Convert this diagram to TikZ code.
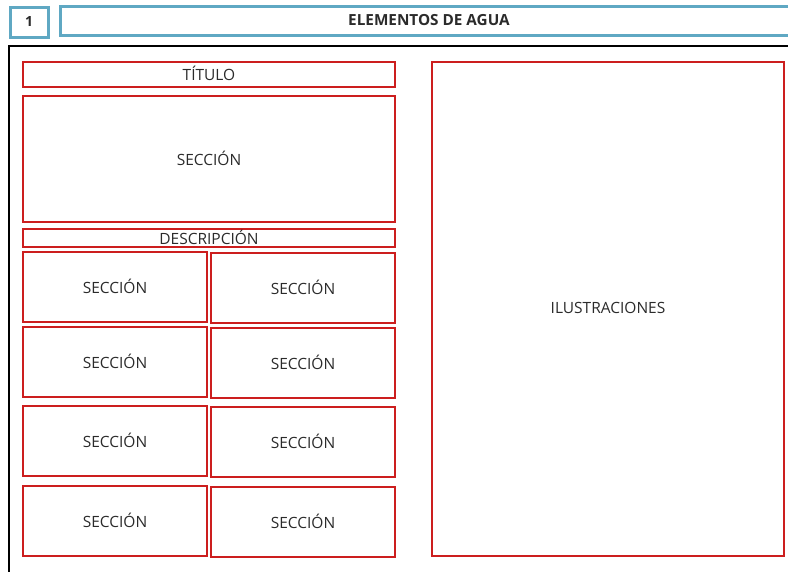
\documentclass[tikz,border=0pt]{standalone}
\usepackage{fontspec}
\setmainfont{Open Sans}
\definecolor{frameblue}{HTML}{5FA8C3}
\definecolor{boxred}{HTML}{CC1E1E}
\definecolor{txt}{HTML}{2B2B2B}
\begin{document}
\begin{tikzpicture}[x=1pt,y=-1pt,
  bluebox/.style={draw=frameblue,line width=3pt},
  redbox/.style={draw=boxred,line width=1.5pt},
  lbl/.style={text=txt,font=\fontsize{15.5}{18}\selectfont,yshift=1pt},
]
\useasboundingbox (0,0) rectangle (788,572);
% header
\draw[bluebox] (10.5,8) rectangle (48,37.5);
\node[lbl,font=\fontsize{14}{17}\selectfont\bfseries] (num) at (29,22.5) {1};
\draw[bluebox] (60.5,7) rectangle (800,36);
\node[lbl,font=\fontsize{15.3}{18}\selectfont\bfseries] (head) at (429,21) {ELEMENTOS DE AGUA};
% outer frame
\draw[line width=1.5pt,black] (9,600) -- (9,46) -- (800,46);
% left column
\draw[redbox] (23,62) rectangle (395,87);
\node[lbl] (titulo) at (209,74.5) {TÍTULO};
\draw[redbox] (23,96) rectangle (395,222);
\node[lbl] (sec0) at (209,159) {SECCIÓN};
\draw[redbox] (23,229) rectangle (395,247);
\node[lbl] (desc) at (209,238) {DESCRIPCIÓN};
% grid
\foreach \ya/\yb/\i in {252/322/1, 327/397/2, 406/476/3, 486/556/4}{
  \draw[redbox] (23,\ya) rectangle (207,\yb);
  \node[lbl] (sl\i) at (115,{(\ya+\yb)/2}) {SECCIÓN};
  \draw[redbox] (211,\ya+1) rectangle (395,\yb+1);
  \node[lbl] (sr\i) at (303,{(\ya+\yb)/2+1}) {SECCIÓN};
}
% illustrations
\draw[redbox] (432,62) rectangle (784,556);
\node[lbl] (ilus) at (608,309) {ILUSTRACIONES};
\end{tikzpicture}
\end{document}
